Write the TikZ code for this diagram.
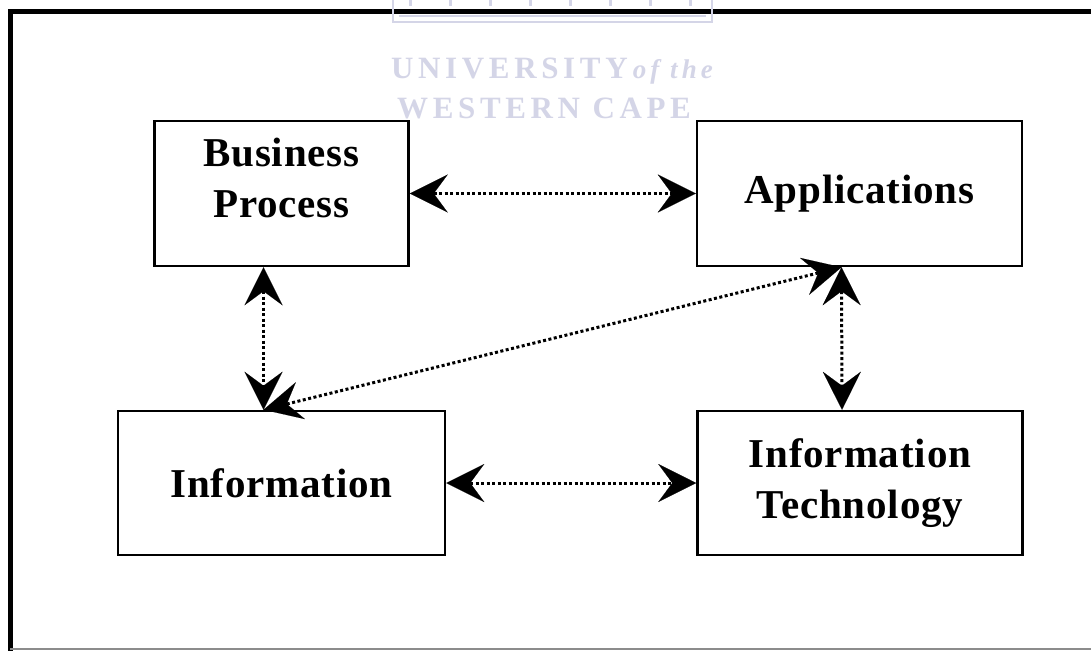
\documentclass[tikz,border=0pt]{standalone}
\usepackage{fontspec}
\setmainfont{Liberation Serif}
\newfontfamily\wmfont[LetterSpace=15]{Liberation Serif}
\newfontfamily\boxfont[LetterSpace=2]{Liberation Serif}
\usetikzlibrary{arrows.meta}
\definecolor{wm}{HTML}{D4D5E7}
\begin{document}
\begin{tikzpicture}[x=1pt,y=-1pt,
  box/.style={draw, line width=2.5pt, fill=white, inner sep=0pt, align=center,
    font=\boxfont\fontsize{41}{51}\selectfont\bfseries},
  boxtext/.style={inner sep=0pt, align=center, font=\boxfont\fontsize{41}{51}\selectfont\bfseries},
  tipx/.tip={Stealth[length=38pt,width=38pt,inset=14pt,line width=0.1pt]},
  link/.style={line width=3pt, dash pattern=on 3pt off 2.5pt, tipx-tipx},
  wmtext/.style={text=wm, inner sep=0pt, anchor=base west}]
\useasboundingbox (0,0) rectangle (1091,650);
\fill[white] (0,0) rectangle (1091,650);
% frame
\draw[line width=5pt] (10,652) -- (10,12) -- (1095,12);
\draw[black!45, line width=1.5pt] (10,649.2) -- (1095,649.2);
% watermark
\draw[wm, line width=2pt] (393,-2) -- (393,22) -- (712,22) -- (712,-2);
\draw[wm, line width=1.5pt] (399,16) -- (706,16);
\foreach \xx in {410,450,490,530,570,610,650,690}
  \draw[wm, line width=3pt] (\xx,-2) -- (\xx,6);
\node[wmtext, font=\wmfont\bfseries\fontsize{31}{31}\selectfont] (wma) at (391,79)
  {UNIVERSITY\,{\fontsize{27}{27}\selectfont\itshape of the}};
\node[wmtext, font=\wmfont\bfseries\fontsize{31}{31}\selectfont] (wmb) at (397,118)
  {WESTERN CAPE};
% boxes
\node[box, minimum width=254pt, minimum height=145pt] (bp) at (281.5,193.5) {};
\node[boxtext] (bptext) at (281.5,177.5) {Business\\Process};
\node[box, minimum width=325pt, minimum height=145pt] (app) at (859.5,193.5) {Applications};
\node[box, minimum width=327pt, minimum height=144pt] (info) at (281.5,483) {Information};
\node[box, minimum width=325pt, minimum height=144pt] (it) at (860,483) {Information\\Technology};
% connectors
\draw[link] (bp.east) -- (app.west);
\draw[link] (info.east) -- (it.west);
\draw[link] ([xshift=-18pt]bp.south) -- ([xshift=-18pt]info.north);
\draw[link] ([xshift=-18pt]app.south) -- ([xshift=-18pt]it.north);
\draw[link] ([xshift=-18pt]info.north) -- ([xshift=-18pt]app.south);
\end{tikzpicture}
\end{document}
